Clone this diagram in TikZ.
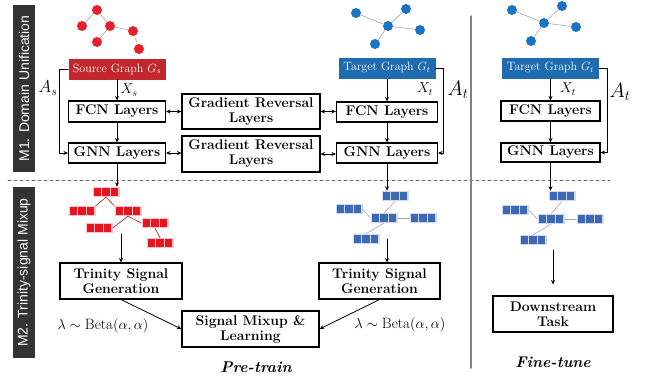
\documentclass[tikz,border=0pt]{standalone}
\usepackage{amsmath}
\usepackage{fontspec}
\usepackage{tikz}
\usetikzlibrary{arrows.meta}
\usepackage{xcolor}
\newfontfamily\barfont{Liberation Sans}
\definecolor{barGray}{HTML}{333333}
\definecolor{srcRed}{HTML}{C3262C}
\definecolor{tgtBlue}{HTML}{1E6BB0}
\definecolor{dotRed}{HTML}{E8202A}
\definecolor{dotBlue}{HTML}{1A74C4}
\definecolor{sqRed}{HTML}{E8141E}
\definecolor{sqBlue}{HTML}{3D68B5}
% one signal block: name, position, colour
\newcommand{\sigblock}[3]{%
  \node[sigbg=#3] (#1) at (#2) {};
  \foreach \k in {-1,0,1}
    \node[sqr=#3] at ([xshift=\k*8.6pt]#1.center) {};
}

\begin{document}
\begin{tikzpicture}[x=1pt,y=-1pt,>={Stealth[length=4.5pt,width=4pt]},line cap=round,
  layerbox/.style={draw,line width=1.1pt,inner sep=0pt,align=center,font=\fontsize{14}{15}\selectfont\bfseries},
  graphbox/.style={fill=#1,text=white,inner sep=0pt,minimum width=97pt,minimum height=21pt,font=\fontsize{12}{12}\selectfont},
  dot/.style={circle,fill=#1,inner sep=0pt,minimum size=10pt},
  edge/.style={gray!70,line width=0.6pt},
  sigbg/.style={fill=#1!25,inner sep=0pt,minimum width=27pt,minimum height=10pt},
  sqr/.style={fill=#1,inner sep=0pt,minimum size=7.5pt},
  sidebar/.style={fill=barGray,text=white,rotate=90,minimum height=22pt,inner sep=0pt,font=\barfont\fontsize{14}{14}\selectfont},
  conn/.style={->,line width=0.8pt}]
\useasboundingbox (0,0) rectangle (646,381);

% side bars and separators
\node[sidebar,minimum width=167pt] (m1) at (24,88.5) {M1. Domain Unification};
\node[sidebar,minimum width=171pt] (m2) at (24,272.5) {M2. Trinity-signal Mixup};
\draw[black!60,dashed,line width=0.6pt] (8,180) -- (610,180);
\draw[gray,line width=1.5pt] (471,16) -- (471,368);

% source graph
\node[dot=dotRed] (r1) at (97,10) {};
\node[dot=dotRed] (r2) at (82,26) {};
\node[dot=dotRed] (r3) at (110,26) {};
\node[dot=dotRed] (r4) at (133,31) {};
\node[dot=dotRed] (r5) at (97,42) {};
\node[dot=dotRed] (r6) at (139,49) {};
\draw[edge] (r1) -- (r2);
\draw[edge] (r1) -- (r3);
\draw[edge] (r3) -- (r5);
\draw[edge] (r3) -- (r4);
\draw[edge] (r4) -- (r6);

% target graph (pre-train)
\node[dot=dotBlue] (b1) at (356,13) {};
\node[dot=dotBlue] (b2) at (406,9) {};
\node[dot=dotBlue] (b3) at (388,26) {};
\node[dot=dotBlue] (b4) at (420,30) {};
\node[dot=dotBlue] (b5) at (375,44) {};
\draw[edge] (b1) -- (b3);
\draw[edge] (b2) -- (b3);
\draw[edge] (b3) -- (b4);
\draw[edge] (b3) -- (b5);

% target graph (fine-tune)
\node[dot=dotBlue] (f1) at (512,10) {};
\node[dot=dotBlue] (f2) at (562,6) {};
\node[dot=dotBlue] (f3) at (544,23) {};
\node[dot=dotBlue] (f4) at (576,27) {};
\node[dot=dotBlue] (f5) at (531,41) {};
\draw[edge] (f1) -- (f3);
\draw[edge] (f2) -- (f3);
\draw[edge] (f3) -- (f4);
\draw[edge] (f3) -- (f5);

% M1 boxes
\node[graphbox=srcRed] (srcg) at (117,69) {Source Graph $G_s$};
\node[layerbox,minimum width=97pt,minimum height=21pt] (fcnS) at (117,111.5) {FCN Layers};
\node[layerbox,minimum width=97pt,minimum height=20pt] (gnnS) at (117,153) {GNN Layers};
\node[layerbox,minimum width=138pt,minimum height=35pt] (grl1) at (251,111.5) {Gradient Reversal\\Layers};
\node[layerbox,minimum width=138pt,minimum height=36pt] (grl2) at (251,154) {Gradient Reversal\\Layers};
\node[graphbox=tgtBlue] (tgtg) at (387,68) {Target Graph $G_t$};
\node[layerbox,minimum width=101pt,minimum height=20pt] (fcnT) at (387,112) {FCN Layers};
\node[layerbox,minimum width=101pt,minimum height=20pt] (gnnT) at (387,153) {GNN Layers};
\node[graphbox=tgtBlue] (tgtF) at (550.5,68) {Target Graph $G_t$};
\node[layerbox,minimum width=99pt,minimum height=20pt] (fcnF) at (550.5,111) {FCN Layers};
\node[layerbox,minimum width=99pt,minimum height=19pt] (gnnF) at (550.5,152.5) {GNN Layers};

\node[font=\fontsize{14}{14}\selectfont] (xs) at (129,90) {$X_s$};
\node[font=\fontsize{17}{17}\selectfont] (as) at (48,88) {$A_s$};
\node[font=\fontsize{14}{14}\selectfont] (xt) at (425,89) {$X_t$};
\node[font=\fontsize{20}{20}\selectfont] (at) at (458,90) {$A_t$};
\node[font=\fontsize{14}{14}\selectfont] (xtF) at (568,89) {$X_t$};
\node[font=\fontsize{20}{20}\selectfont] (atF) at (620,92) {$A_t$};

\draw[conn] (srcg) -- (fcnS);
\draw[conn] (fcnS) -- (gnnS);
\draw[conn] (srcg.west) -- ++(-9,0) |- (gnnS.west);
\draw[conn,<->] (fcnS.east) -- (fcnS.east -| grl1.west);
\draw[conn,<->] (grl1.east) -- (grl1.east -| fcnT.west);
\draw[conn,<->] (gnnS.east) -- (gnnS.east -| grl2.west);
\draw[conn,<->] (grl2.east -| gnnT.west) -- (grl2.east);
\draw[conn] (tgtg) -- (fcnT);
\draw[conn] (fcnT) -- (gnnT);
\draw[conn] (tgtg.east) -- ++(8,0) |- (gnnT.east);
\draw[conn] (tgtF) -- (fcnF);
\draw[conn] (fcnF) -- (gnnF);
\draw[conn] (tgtF.east) -- ++(8,0) |- (gnnF.east);

% M2: signal trees
\sigblock{rt}{106,192}{sqRed}
\sigblock{rl}{82,211}{sqRed}
\sigblock{rm}{128,211}{sqRed}
\sigblock{rll}{99,228}{sqRed}
\sigblock{rr}{155,223}{sqRed}
\sigblock{rb}{160,243}{sqRed}
\draw[sqRed!80!black,line width=0.6pt] (rt.south) -- (rl.north east);
\draw[sqRed!80!black,line width=0.6pt] (rt.south) -- (rm.north west);
\draw[sqRed!80!black,line width=0.6pt] (rm.south) -- (rll.east);
\draw[sqRed!80!black,line width=0.6pt] (rm.south) -- (rr.west);
\draw[sqRed!80!black,line width=0.6pt] (rr.south) -- (rb.north);

\sigblock{bt}{395,196}{sqBlue}
\sigblock{bl}{349,209}{sqBlue}
\sigblock{bc}{384,218}{sqBlue}
\sigblock{br}{423,218}{sqBlue}
\sigblock{bb}{366,239}{sqBlue}
\draw[edge] (bt.south) -- (bc.north);
\draw[edge] (bl.east) -- (bc.west);
\draw[edge] (bc.east) -- (br.west);
\draw[edge] (bc.south) -- (bb.north);

\sigblock{ft}{562,196}{sqBlue}
\sigblock{fl}{515,210}{sqBlue}
\sigblock{fc}{551,219}{sqBlue}
\sigblock{fr}{590,219}{sqBlue}
\sigblock{fb}{533,240}{sqBlue}
\draw[edge] (ft.south) -- (fc.north);
\draw[edge] (fl.east) -- (fc.west);
\draw[edge] (fc.east) -- (fr.west);
\draw[edge] (fc.south) -- (fb.north);

\draw[conn] (gnnS.south) -- (gnnS.south |- rt.north);
\draw[conn] (gnnT.south) -- (gnnT.south |- bt.north);
\draw[conn] (gnnF.south) -- (gnnF.south |- ft.north);

% M2 boxes
\node[layerbox,minimum width=122pt,minimum height=36pt] (trinS) at (121,281) {Trinity Signal\\Generation};
\node[layerbox,minimum width=121pt,minimum height=36pt] (trinT) at (379.5,281) {Trinity Signal\\Generation};
\node[layerbox,minimum width=137pt,minimum height=36pt] (mix) at (250.5,329) {Signal Mixup \&\\Learning};
\node[layerbox,minimum width=120pt,minimum height=36pt] (down) at (553,314) {Downstream\\Task};

\coordinate (rgo) at (121,234);
\coordinate (bgo) at (387,239);
\coordinate (fgo) at (553,250);
\draw[conn] (rgo) -- (rgo |- trinS.north);
\draw[conn] (bgo) -- (bgo |- trinT.north);
\draw[conn,shorten >=11pt] (fgo) -- (fgo |- down.north);
\draw[conn] (trinS.south) -- (mix.west);
\draw[conn] (trinT.south) -- (mix.east);

\node[font=\fontsize{15}{15}\selectfont] (lamS) at (103,326) {$\lambda\sim\mathrm{Beta}(\alpha,\alpha)$};
\node[font=\fontsize{15}{15}\selectfont] (lamT) at (400,325) {$\lambda\sim\mathrm{Beta}(\alpha,\alpha)$};
\node[font=\fontsize{15.5}{16}\selectfont\bfseries\itshape] (pre) at (256,367) {Pre-train};
\node[font=\fontsize{15.5}{16}\selectfont\bfseries\itshape] (fine) at (553,362) {Fine-tune};
\end{tikzpicture}
\end{document}
